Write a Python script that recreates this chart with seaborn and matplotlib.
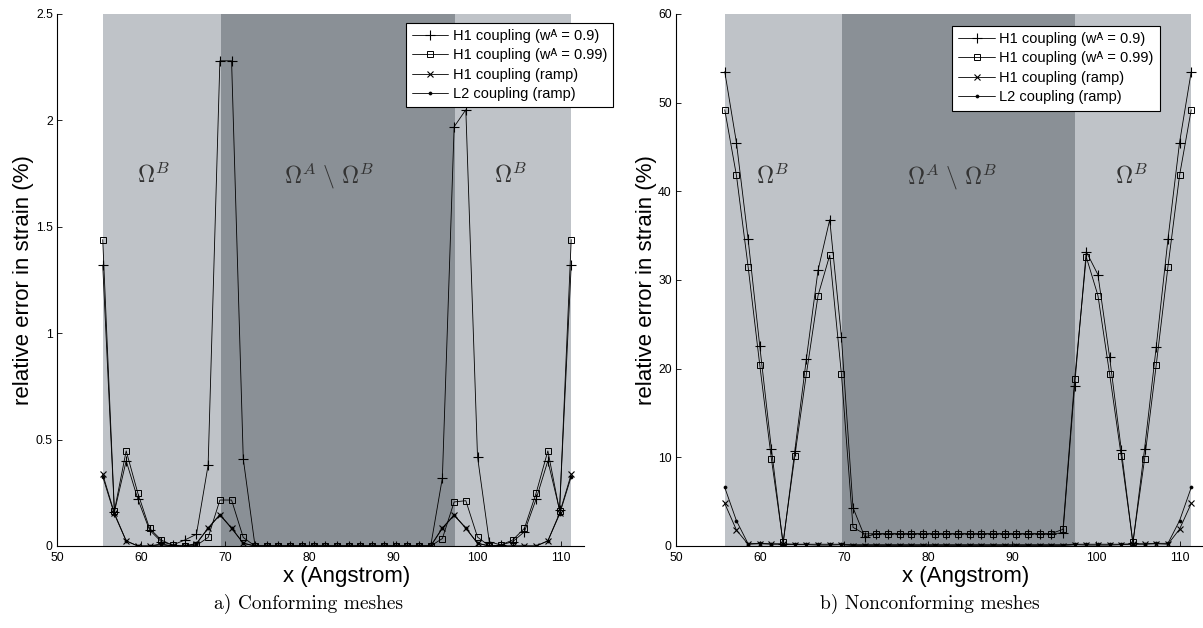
import matplotlib
matplotlib.use("Agg")
import matplotlib.pyplot as plt
import seaborn as sns

sns.set_theme(style="white")
plt.rcParams["font.family"] = ["Liberation Sans", "DejaVu Sans"]
plt.rcParams["axes.edgecolor"] = "black"
plt.rcParams["text.color"] = "black"
plt.rcParams["axes.labelcolor"] = "black"

# ---------------- data ----------------
series_labels = ["H1 coupling (w\u1d2c = 0.9)",
                 "H1 coupling (w\u1d2c = 0.99)",
                 "H1 coupling (ramp)",
                 "L2 coupling (ramp)"]

# a) conforming meshes
x_conf = [55.44, 56.83, 58.23, 59.62, 61.01, 62.41, 63.80, 65.19, 66.59, 67.98,
          69.38, 70.77, 72.16, 73.56, 74.95, 76.34, 77.74, 79.13, 80.52, 81.92,
          83.31, 84.70, 86.10, 87.49, 88.88, 90.28, 91.67, 93.06, 94.46, 95.85,
          97.25, 98.64, 100.03, 101.43, 102.82, 104.21, 105.61, 107.00, 108.40, 109.79,
          111.18]
h1_09_conf = [1.32, 0.16, 0.40, 0.22, 0.075, 0.02, 0.005, 0.028, 0.055, 0.38,
              2.28, 2.28, 0.41, 0.0, 0.0, 0.0, 0.0, 0.0, 0.0, 0.0,
              0.0, 0.0, 0.0, 0.0, 0.0, 0.0, 0.0, 0.0, 0.0, 0.32,
              1.97, 2.05, 0.42, 0.02, 0.005, 0.02, 0.067, 0.22, 0.40, 0.17,
              1.32]
h1_099_conf = [1.44, 0.165, 0.447, 0.248, 0.083, 0.028, 0.003, 0.0, 0.003, 0.04,
               0.216, 0.216, 0.04, 0.0, 0.0, 0.0, 0.0, 0.0, 0.0, 0.0,
               0.0, 0.0, 0.0, 0.0, 0.0, 0.0, 0.0, 0.0, 0.0, 0.035,
               0.207, 0.213, 0.042, 0.0, 0.005, 0.028, 0.083, 0.248, 0.447, 0.165,
               1.44]
h1_ramp_conf = [0.337, 0.154, 0.024, 0.0, 0.0, 0.005, 0.0, 0.0, 0.01, 0.083,
                0.146, 0.083, 0.013, 0.0, 0.0, 0.0, 0.0, 0.0, 0.0, 0.0,
                0.0, 0.0, 0.0, 0.0, 0.0, 0.0, 0.0, 0.0, 0.0, 0.083,
                0.144, 0.083, 0.013, 0.0, 0.0, 0.0, 0.0, 0.0, 0.024, 0.154,
                0.337]
l2_ramp_conf = [0.326, 0.149, 0.024, 0.0, 0.0, 0.01, 0.0, 0.0, 0.012, 0.085,
                0.148, 0.085, 0.013, 0.0, 0.0, 0.0, 0.0, 0.0, 0.0, 0.0,
                0.0, 0.0, 0.0, 0.0, 0.0, 0.0, 0.0, 0.0, 0.0, 0.085,
                0.146, 0.085, 0.013, 0.0, 0.0, 0.0, 0.0, 0.0, 0.024, 0.149,
                0.326]
regions_conf = [55.44, 69.5, 97.4, 111.18]
omega_x_conf = [61.4, 82.4, 103.9]

# b) nonconforming meshes
x_nonconf = [55.80, 57.19, 58.58, 59.96, 61.35, 62.74, 64.13, 65.51, 66.90, 68.29,
             69.68, 71.06, 72.45, 73.84, 75.23, 76.61, 78.00, 79.39, 80.78, 82.16,
             83.55, 84.94, 86.33, 87.71, 89.10, 90.49, 91.88, 93.26, 94.65, 96.04,
             97.43, 98.81, 100.20, 101.59, 102.98, 104.36, 105.75, 107.14, 108.53, 109.91,
             111.30]
h1_09_nonconf = [53.5, 45.5, 34.6, 22.6, 10.96, 0.2, 10.7, 21.1, 31.1, 36.8,
                 23.6, 4.33, 1.05, 1.35, 1.35, 1.35, 1.35, 1.35, 1.35, 1.35,
                 1.35, 1.35, 1.35, 1.35, 1.35, 1.35, 1.35, 1.35, 1.35, 1.5,
                 18.1, 33.2, 30.6, 21.3, 10.85, 0.3, 10.96, 22.5, 34.6, 45.5,
                 53.5]
h1_099_nonconf = [49.2, 41.8, 31.5, 20.45, 9.83, 0.4, 10.1, 19.4, 28.25, 32.8,
                  19.4, 2.1, 1.36, 1.4, 1.4, 1.4, 1.4, 1.4, 1.4, 1.4,
                  1.4, 1.4, 1.4, 1.4, 1.4, 1.4, 1.4, 1.4, 1.4, 1.88,
                  18.8, 32.6, 28.25, 19.4, 10.1, 0.4, 9.8, 20.45, 31.5, 41.8,
                  49.2]
h1_ramp_nonconf = [4.8, 1.8, 0.2, 0.25, 0.2, 0.2, 0.15, 0.15, 0.1, 0.1,
                   0.15, 0.05, 0.05, 0.05, 0.05, 0.05, 0.05, 0.05, 0.05, 0.05,
                   0.05, 0.05, 0.05, 0.05, 0.05, 0.05, 0.05, 0.05, 0.05, 0.05,
                   0.15, 0.1, 0.1, 0.1, 0.15, 0.2, 0.2, 0.25, 0.2, 1.9,
                   4.8]
l2_ramp_nonconf = [6.6, 2.85, 0.25, 0.3, 0.25, 0.25, 0.2, 0.2, 0.2, 0.2,
                   0.2, 0.15, 0.15, 0.15, 0.15, 0.15, 0.15, 0.15, 0.15, 0.15,
                   0.15, 0.15, 0.15, 0.15, 0.15, 0.15, 0.15, 0.15, 0.15, 0.15,
                   0.2, 0.2, 0.2, 0.2, 0.2, 0.25, 0.25, 0.3, 0.3, 2.85,
                   6.6]
regions_nonconf = [55.80, 69.7, 97.5, 111.30]
omega_x_nonconf = [61.5, 82.9, 104.2]

x_ticks = [50, 60, 70, 80, 90, 100, 110]
y_ticks_conf = [0, 0.5, 1, 1.5, 2, 2.5]
y_tick_labels_conf = ["0", "0.5", "1", "1.5", "2", "2.5"]
y_ticks_nonconf = [0, 10, 20, 30, 40, 50, 60]
captions = ["a) Conforming meshes", "b) Nonconforming meshes"]

# ---------------- styling ----------------
LIGHT = "#bfc3c8"
DARK = "#8a9096"
styles = [dict(marker="+", markersize=7, mew=0.8, mfc="none"),
          dict(marker="s", markersize=5, mew=0.7, mfc="none"),
          dict(marker="x", markersize=3.8, mew=0.8, mfc="none"),
          dict(marker="o", markersize=2.2, mew=0.5, mfc="black")]

W, H = 1203, 628
fig = plt.figure(figsize=(W / 100, H / 100), dpi=100)


def px_axes(left, right, top, bottom):
    return fig.add_axes([left / W, (H - bottom) / H, (right - left) / W, (bottom - top) / H])


def draw(ax, x, ys, regions, ylim, yticks, yticklabels, omega_x, omega_y, legend_anchor):
    ax.axvspan(regions[0], regions[3], color=LIGHT, lw=0, zorder=0)
    ax.axvspan(regions[1], regions[2], color=DARK, lw=0, zorder=0.1)
    for y, lab, st in zip(ys, series_labels, styles):
        sns.lineplot(x=x, y=y, ax=ax, color="black", lw=0.6, label=lab,
                     mec="black", estimator=None, zorder=3, **st)
    ax.set_xlim(50, 112.7)
    ax.set_ylim(*ylim)
    ax.set_xticks(x_ticks)
    ax.set_yticks(yticks)
    ax.set_yticklabels(yticklabels)
    for s in ["top", "right"]:
        ax.spines[s].set_visible(False)
    for s in ["left", "bottom"]:
        ax.spines[s].set_linewidth(0.8)
        ax.spines[s].set_zorder(5)
    ax.tick_params(axis="both", direction="in", length=3.5, width=0.6,
                   labelsize=8.8, colors="black", bottom=True, left=True, pad=3)
    ax.tick_params(axis="x", pad=4)
    ax.set_xlabel("x (Angstrom)", fontsize=16, labelpad=0)
    ax.xaxis.set_label_coords(0.55, -0.038, transform=ax.transAxes)
    ax.xaxis.label.set_va("top")
    ax.set_ylabel("relative error in strain (%)", fontsize=16, labelpad=1)
    for xx, t in zip(omega_x, [r"$\Omega^B$", r"$\Omega^A\ \backslash\ \Omega^B$", r"$\Omega^B$"]):
        ax.text(xx, omega_y, t, math_fontfamily="cm", fontsize=17,
                color="#333333", ha="center", va="center", zorder=2)
    leg = ax.legend(loc="upper left", bbox_to_anchor=legend_anchor, fontsize=10.5,
                    frameon=True, fancybox=False, framealpha=1, edgecolor="black",
                    handlelength=2.5, handletextpad=0.3, borderpad=0.42,
                    labelspacing=0.38, borderaxespad=0)
    leg.get_frame().set_linewidth(0.8)
    leg.set_zorder(10)


ax1 = px_axes(57, 584, 14, 546)
draw(ax1, x_conf, [h1_09_conf, h1_099_conf, h1_ramp_conf, l2_ramp_conf],
     regions_conf, (0, 2.5), y_ticks_conf, y_tick_labels_conf,
     omega_x_conf, 1.74, (0.662, 0.984))

ax2 = px_axes(676, 1203, 14, 546)
draw(ax2, x_nonconf, [h1_09_nonconf, h1_099_nonconf, h1_ramp_nonconf, l2_ramp_nonconf],
     regions_nonconf, (0, 60), y_ticks_nonconf, [str(v) for v in y_ticks_nonconf],
     omega_x_nonconf, 41.7, (0.524, 0.978))

fig.text(308 / W, 1 - 604 / H, captions[0], fontfamily="cmr10", fontsize=14,
         ha="center", va="center")
fig.text(930 / W, 1 - 604 / H, captions[1], fontfamily="cmr10", fontsize=14,
         ha="center", va="center")

fig.savefig("out.png", dpi=100)
